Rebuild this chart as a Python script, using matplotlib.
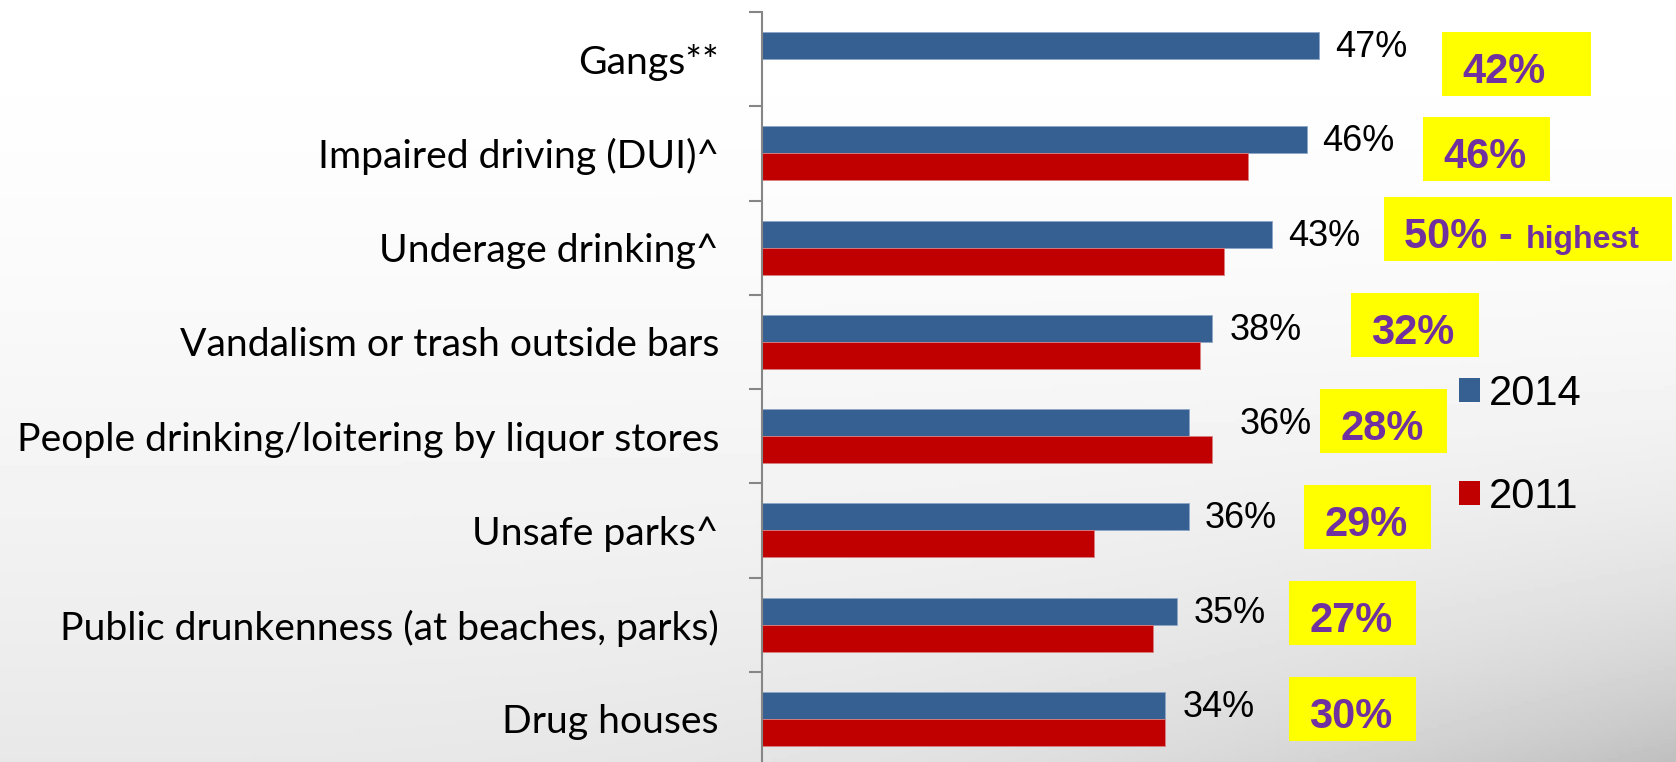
import matplotlib.pyplot as plt
import numpy as np
from matplotlib.patches import Rectangle, Patch

## Data

categories = ["Gangs**", "Impaired driving (DUI)^", "Underage drinking^",
              "Vandalism or trash outside bars",
              "People drinking/loitering by liquor stores", "Unsafe parks^",
              "Public drunkenness (at beaches, parks)", "Drug houses"]
values_2014 = [47, 46, 43, 38, 36, 36, 35, 34]
values_2011 = [np.nan, 41, 39, 37, 38, 28, 33, 34]
value_labels = ["47%", "46%", "43%", "38%", "36%", "36%", "35%", "34%"]
note_labels = ["42%", "46%", "50% -", "32%", "28%", "29%", "27%", "30%"]
note_suffix = "highest"

## Layout (pixels, figure is 1676x762 at dpi 100)

W, H = 1676, 762
PX_PER_PCT = 11.85
PX_PER_CAT = 94.25
label_pad_px = [16, 15, 17, 17, 27, 16, 17, 18]
box_left_px = [1442, 1423, 1384, 1351, 1320, 1304, 1289, 1289]
box_width_px = [149, 127, 288, 128, 127, 127, 127, 127]
box_top_px = [32, 117, 197, 293, 389, 485, 581, 677]
BOX_H = 64

blue = "#376092"
red = "#C00000"
purple = "#7030A0"
axis_gray = "#868686"

fig = plt.figure(figsize=(W / 100, H / 100), dpi=100)

# Background gradient
bg = fig.add_axes([0, 0, 1, 1], zorder=-10)
yy, xx = np.mgrid[0:1:200j, 0:1:400j]
shade = 1 - 0.09 * yy ** 1.5 - 0.16 * (xx ** 3) * (yy ** 4)
bg.imshow(shade, cmap="gray", vmin=0, vmax=1, aspect="auto",
          extent=[0, 1, 0, 1], origin="upper")
bg.axis("off")

ax_left = 762
ax = fig.add_axes([ax_left / W, -4 / H, (W - ax_left) / W, 754 / H])
ax.set_facecolor("none")

n = len(categories)
y = np.arange(n)
h = 27 / PX_PER_CAT
ax.barh(y - h / 2, values_2014, height=h, color=blue, edgecolor="#8ea6c6", linewidth=0.6)
ax.barh(y + h / 2, values_2011, height=h, color=red, edgecolor="#d98080", linewidth=0.6)

ax.set_xlim(0, (W - ax_left) / PX_PER_PCT)
ax.set_ylim(n - 0.5, -0.5)


def px_to_pct(px):
    return (px - ax_left) / PX_PER_PCT


def px_to_cat(py):
    return (py - 12) / PX_PER_CAT - 0.5


# Spines and ticks
for s in ["top", "right", "bottom"]:
    ax.spines[s].set_visible(False)
ax.spines["left"].set_color(axis_gray)
ax.spines["left"].set_linewidth(1.5)
ax.xaxis.set_visible(False)
ax.set_yticks(y)
ax.set_yticks(np.arange(n) - 0.5, minor=True)
ax.tick_params(axis="y", which="major", length=0, pad=31)
ax.tick_params(axis="y", which="minor", length=9.5, width=1.5, color=axis_gray)

# Category labels: fit width of the longest label
fig.canvas.draw()
renderer = fig.canvas.get_renderer()
probe = fig.text(0, 0, max(categories, key=len), fontsize=24, family="Lato")
w = probe.get_window_extent(renderer).width
probe.remove()
cat_fs = 24 * 702 / w
ax.set_yticklabels(categories, fontsize=cat_fs, family="Lato", color="black")

# Value labels for 2014
for i in range(n):
    end = np.nanmax([values_2014[i], values_2011[i]])
    ax.annotate(value_labels[i], xy=(end, y[i] - h / 2),
                xytext=(label_pad_px[i] * 0.72, -1.5), textcoords="offset points",
                ha="left", va="center", fontsize=26, family="Liberation Sans")

# Yellow note boxes
for i in range(n):
    x0 = px_to_pct(box_left_px[i])
    bw = box_width_px[i] / PX_PER_PCT
    y0 = px_to_cat(box_top_px[i])
    ax.add_patch(Rectangle((x0, y0), bw, BOX_H / PX_PER_CAT, facecolor="#FFFF00",
                           edgecolor="none", clip_on=False, zorder=3))
    ax.text(px_to_pct(box_left_px[i] + 20), px_to_cat(box_top_px[i] + 51),
            note_labels[i], ha="left", va="baseline", fontsize=30,
            fontweight="bold", color=purple, family="Liberation Sans", zorder=4)
    if i == 2:
        ax.text(px_to_pct(box_left_px[i] + 142), px_to_cat(box_top_px[i] + 51),
                note_suffix, ha="left", va="baseline", fontsize=23,
                fontweight="bold", color=purple, family="Liberation Sans", zorder=4)

# Legend
handles = [Patch(facecolor=blue, label="2014"), Patch(facecolor=red, label="2011")]
fig.legend(handles=handles, loc="upper left", bbox_to_anchor=(1459 / W, 1 - 374 / H),
           frameon=False, borderpad=0, borderaxespad=0, handlelength=0.5,
           handleheight=0.5, handletextpad=0.22, labelspacing=1.5,
           prop={"family": "Liberation Sans", "size": 30})

plt.savefig("out.png", dpi=100)
